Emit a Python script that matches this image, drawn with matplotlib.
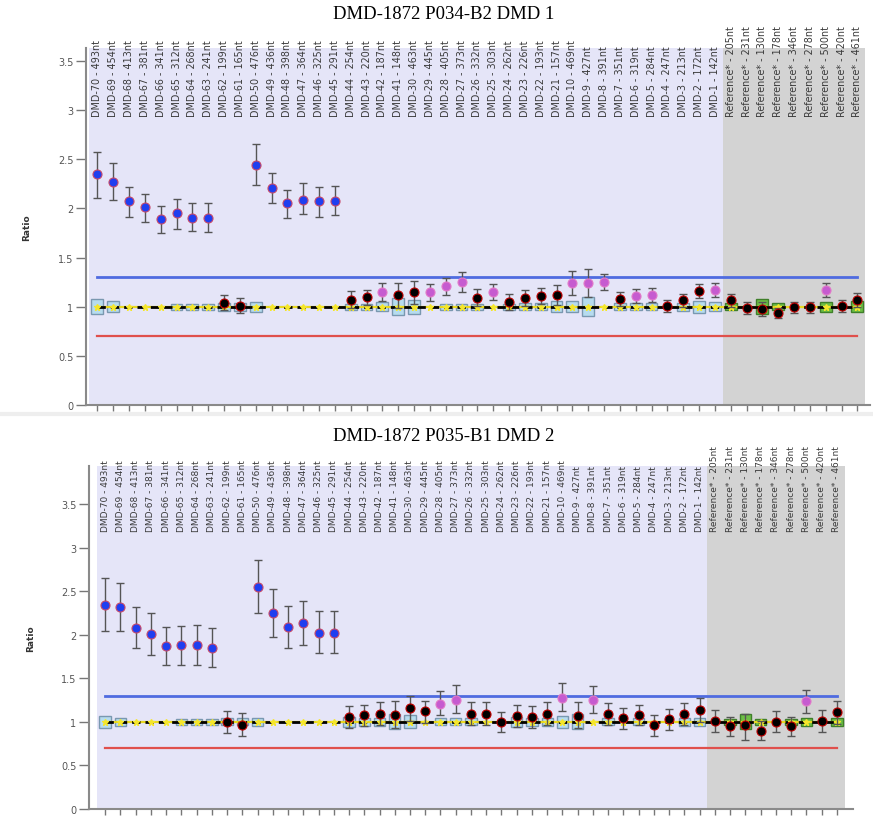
import numpy as np
import matplotlib.pyplot as plt

# probe labels (same for both samples)
labels = [
    "DMD-70 - 493nt", "DMD-69 - 454nt", "DMD-68 - 413nt", "DMD-67 - 381nt", "DMD-66 - 341nt",
    "DMD-65 - 312nt", "DMD-64 - 268nt", "DMD-63 - 241nt", "DMD-62 - 199nt", "DMD-61 - 165nt",
    "DMD-50 - 476nt", "DMD-49 - 436nt", "DMD-48 - 398nt", "DMD-47 - 364nt", "DMD-46 - 325nt",
    "DMD-45 - 291nt", "DMD-44 - 254nt", "DMD-43 - 220nt", "DMD-42 - 187nt", "DMD-41 - 148nt",
    "DMD-30 - 463nt", "DMD-29 - 445nt", "DMD-28 - 405nt", "DMD-27 - 373nt", "DMD-26 - 332nt",
    "DMD-25 - 303nt", "DMD-24 - 262nt", "DMD-23 - 226nt", "DMD-22 - 193nt", "DMD-21 - 157nt",
    "DMD-10 - 469nt", "DMD-9 - 427nt", "DMD-8 - 391nt", "DMD-7 - 351nt", "DMD-6 - 319nt",
    "DMD-5 - 284nt", "DMD-4 - 247nt", "DMD-3 - 213nt", "DMD-2 - 172nt", "DMD-1 - 142nt",
    "Reference* - 205nt", "Reference* - 231nt", "Reference* - 130nt", "Reference* - 178nt",
    "Reference* - 346nt", "Reference* - 278nt", "Reference* - 500nt", "Reference* - 420nt",
    "Reference* - 461nt",
]
n_ref = 9

# sample 1 : DMD-1872 P034-B2
top_ratio = [2.35, 2.27, 2.07, 2.01, 1.89, 1.95, 1.905, 1.90, 1.04, 1.01,
             2.44, 2.21, 2.05, 2.09, 2.07, 2.08, 1.07, 1.095, 1.145, 1.115,
             1.145, 1.145, 1.205, 1.25, 1.09, 1.15, 1.05, 1.09, 1.11, 1.12,
             1.24, 1.24, 1.25, 1.08, 1.11, 1.12, 1.01, 1.065, 1.16, 1.17,
             1.065, 0.99, 0.975, 0.935, 0.995, 0.995, 1.17, 1.01, 1.07]
top_lo = [2.11, 2.085, 1.915, 1.86, 1.75, 1.79, 1.77, 1.76, 0.97, 0.94,
          2.235, 2.05, 1.90, 1.94, 1.915, 1.93, 0.99, 1.02, 1.06, 0.99,
          1.03, 1.06, 1.12, 1.15, 1.005, 1.065, 0.97, 1.01, 1.03, 1.02,
          1.12, 1.10, 1.17, 1.01, 1.04, 1.05, 0.95, 1.00, 1.09, 1.10,
          1.00, 0.93, 0.90, 0.88, 0.94, 0.94, 1.10, 0.95, 1.00]
top_hi = [2.57, 2.46, 2.22, 2.15, 2.02, 2.10, 2.05, 2.05, 1.12, 1.09,
          2.65, 2.36, 2.19, 2.255, 2.22, 2.23, 1.155, 1.17, 1.24, 1.24,
          1.265, 1.235, 1.29, 1.35, 1.175, 1.235, 1.13, 1.17, 1.19, 1.22,
          1.36, 1.38, 1.33, 1.15, 1.18, 1.19, 1.07, 1.13, 1.23, 1.24,
          1.13, 1.05, 1.05, 0.99, 1.05, 1.05, 1.24, 1.07, 1.14]
top_kind = (["dup"] * 8 + ["ok"] * 2 + ["dup"] * 6 +
            ["ok", "ok", "high", "ok", "ok", "high", "high", "high", "ok", "high",
             "ok", "ok", "ok", "ok", "high", "high", "high", "ok", "high", "high",
             "ok", "ok", "ok", "high"] +
            ["ok"] * 6 + ["high", "ok", "ok"])
top_sd = [0.075, 0.055, 0, 0, 0, 0.03, 0.03, 0.03, 0.04, 0.04,
          0.05, 0, 0, 0, 0, 0, 0.03, 0.03, 0.045, 0.085,
          0.07, 0, 0.03, 0.03, 0.03, 0, 0.03, 0.035, 0.035, 0.055,
          0.055, 0.1, 0, 0.035, 0.035, 0.035, 0, 0.04, 0.06, 0.045,
          0.035, 0, 0.08, 0.035, 0, 0, 0.05, 0, 0.055]

# sample 2 : DMD-1872 P035-B1
bot_ratio = [2.34, 2.315, 2.08, 2.005, 1.87, 1.88, 1.88, 1.85, 1.00, 0.97,
             2.55, 2.25, 2.085, 2.135, 2.02, 2.02, 1.055, 1.075, 1.09, 1.08,
             1.155, 1.12, 1.205, 1.255, 1.09, 1.09, 1.00, 1.065, 1.055, 1.09,
             1.28, 1.07, 1.255, 1.09, 1.04, 1.08, 0.96, 1.03, 1.09, 1.14,
             1.015, 0.95, 0.96, 0.90, 1.00, 0.95, 1.235, 1.015, 1.11]
bot_lo = [2.04, 2.04, 1.845, 1.77, 1.65, 1.65, 1.65, 1.63, 0.87, 0.84,
          2.25, 1.98, 1.845, 1.88, 1.79, 1.79, 0.93, 0.95, 0.96, 0.93,
          1.01, 0.99, 1.08, 1.10, 0.96, 0.96, 0.88, 0.94, 0.93, 0.96,
          1.12, 0.93, 1.10, 0.97, 0.92, 0.96, 0.84, 0.91, 0.96, 1.00,
          0.89, 0.84, 0.79, 0.79, 0.88, 0.84, 1.10, 0.89, 0.98]
bot_hi = [2.65, 2.60, 2.32, 2.25, 2.09, 2.10, 2.11, 2.08, 1.13, 1.10,
          2.86, 2.53, 2.33, 2.39, 2.27, 2.27, 1.18, 1.20, 1.225, 1.245,
          1.30, 1.245, 1.35, 1.42, 1.225, 1.225, 1.11, 1.19, 1.18, 1.225,
          1.45, 1.225, 1.41, 1.215, 1.16, 1.19, 1.08, 1.15, 1.22, 1.28,
          1.14, 1.055, 1.09, 1.015, 1.12, 1.055, 1.37, 1.14, 1.245]
bot_kind = (["dup"] * 8 + ["ok"] * 2 + ["dup"] * 6 +
            ["ok"] * 6 + ["high", "high"] + ["ok"] * 6 + ["high", "ok", "high"] +
            ["ok"] * 13 + ["high", "ok", "ok"])
bot_sd = [0.07, 0.048, 0, 0, 0, 0.035, 0.035, 0.035, 0.04, 0.04,
          0.05, 0, 0, 0, 0, 0, 0.057, 0.05, 0.05, 0.086,
          0.075, 0, 0.04, 0.04, 0.04, 0, 0, 0.06, 0.05, 0.05,
          0.067, 0.086, 0, 0.04, 0, 0.04, 0, 0, 0.05, 0.05,
          0, 0.035, 0.086, 0.035, 0, 0.035, 0.05, 0, 0.05]

upper_lim = 1.3
lower_lim = 0.7

styles = {
    "dup": dict(face="#1f3ff0", edge="#c84a6a"),
    "ok": dict(face="#000000", edge="#c00000"),
    "high": dict(face="#c65bd0", edge="#e27ac8"),
}


def draw_panel(ax, ratio, lo, hi, kind, sd, ytop, label_size):
    x = np.arange(len(labels))
    n = len(labels)
    ax.set_facecolor("white")
    # probe / reference background
    ax.axvspan(-0.5, n - n_ref - 0.5, color="#e5e5f8", zorder=0, lw=0)
    ax.axvspan(n - n_ref - 0.5, n - 0.5, color="#d3d3d3", zorder=0, lw=0)

    ax.plot([0, n - 1], [upper_lim, upper_lim], color="#4f6be0", lw=2, zorder=1)
    ax.plot([0, n - 1], [lower_lim, lower_lim], color="#e0504c", lw=1.6, zorder=1)

    # reference sample spread boxes
    sd = np.array(sd)
    box_col = ["#b6dcef" if i < n - n_ref else "#6dbf45" for i in range(n)]
    box_edge = ["#7a98b0" if i < n - n_ref else "#3f7f2a" for i in range(n)]
    mask = sd > 0
    ax.bar(x[mask], 2 * sd[mask], bottom=1 - sd[mask], width=0.75,
           color=np.array(box_col)[mask], edgecolor=np.array(box_edge)[mask],
           lw=1.0, zorder=2)

    ax.plot([0, n - 1], [1, 1], color="#e8d820", lw=1.6, zorder=3)
    ax.plot([0, n - 1], [1, 1], color="black", lw=2.0, ls=(0, (3, 1.8)), zorder=3)
    ax.plot(x, np.ones(n), ls="none", marker="*", ms=4.5, color="#f5e62a", zorder=4)

    ratio = np.array(ratio)
    err = [ratio - np.array(lo), np.array(hi) - ratio]
    ax.errorbar(x, ratio, yerr=err, fmt="none", ecolor="#555555", elinewidth=1,
                capsize=3.2, capthick=1, zorder=5)
    for k, st in styles.items():
        idx = [i for i in range(n) if kind[i] == k]
        ax.plot(x[idx], ratio[idx], ls="none", marker="o", ms=6.5,
                markerfacecolor=st["face"], markeredgecolor=st["edge"],
                markeredgewidth=0.8, zorder=6)

    # probe names at the top of the plot
    tr = ax.get_xaxis_transform()
    for i, lab in enumerate(labels):
        ax.text(i, 0.81, lab, transform=tr, rotation=90, ha="center", va="bottom",
                fontsize=label_size, color="#3a3a3a", zorder=7, clip_on=False)

    ax.set_ylim(0, ytop)
    ax.set_xticks(x)
    ax.set_xticklabels([])
    ax.set_yticks([0, 0.5, 1, 1.5, 2, 2.5, 3, 3.5])
    ax.set_yticklabels(["0", "0.5", "1", "1.5", "2", "2.5", "3", "3.5"])
    ax.tick_params(axis="y", length=7, width=1, colors="#777777", labelsize=7,
                   labelcolor="#555555", pad=2)
    ax.tick_params(axis="x", length=4, width=1, colors="#777777")
    for s in ["top", "right"]:
        ax.spines[s].set_visible(False)
    for s in ["left", "bottom"]:
        ax.spines[s].set_color("#8a8a8a")
        ax.spines[s].set_linewidth(1.5)
    ax.set_ylabel("Ratio", fontsize=6.5, fontweight="bold", color="#333333")
    ax.yaxis.set_label_coords(-0.07, 0.5)


fig = plt.figure(figsize=(8.73, 8.2), dpi=100)
fig.patch.set_facecolor("white")

ax1 = fig.add_axes([0.0985, 0.505, 0.8981, 0.435])
draw_panel(ax1, top_ratio, top_lo, top_hi, top_kind, top_sd, 3.63, 6.9)
ax1.set_xlim(-0.72, 48.8)
fig.text(0.508, 0.982, "DMD-1872 P034-B2 DMD 1", ha="center", va="center",
         fontsize=13.5, family="Liberation Serif")

ax2 = fig.add_axes([0.102, 0.0122, 0.875, 0.4183])
draw_panel(ax2, bot_ratio, bot_lo, bot_hi, bot_kind, bot_sd, 3.94, 6.5)
ax2.set_xlim(-1.05, 49.05)
fig.text(0.508, 0.468, "DMD-1872 P035-B1 DMD 2", ha="center", va="center",
         fontsize=13.5, family="Liberation Serif")

# thin separator between the two screenshots
fig.add_artist(plt.Line2D([0, 1], [0.494, 0.494], color="#eeeeee", lw=3))

fig.savefig("out.png", dpi=100)
